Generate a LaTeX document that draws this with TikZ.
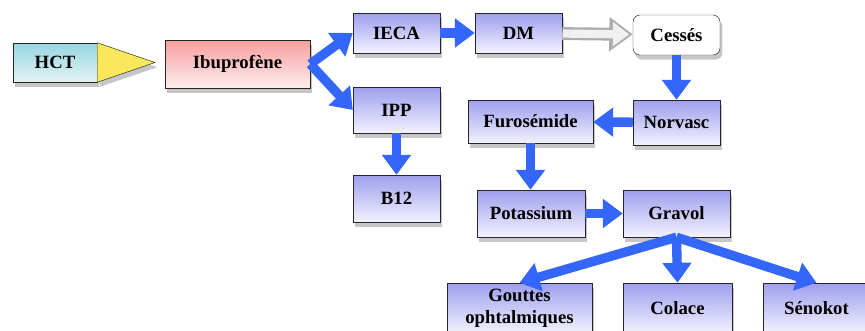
\documentclass[tikz,border=0pt]{standalone}
\usepackage{fontspec}
\setmainfont{Liberation Serif}
\usetikzlibrary{shadows, arrows.meta}
\definecolor{medtop}{RGB}{158,158,238}
\definecolor{medbottom}{RGB}{242,242,255}
\definecolor{ibutop}{RGB}{248,158,158}
\definecolor{ibubottom}{RGB}{253,238,238}
\definecolor{hcttop}{RGB}{150,214,226}
\definecolor{hctbottom}{RGB}{228,242,242}
\definecolor{hctyellow}{RGB}{250,232,92}
\definecolor{flowblue}{RGB}{52,102,250}
\tikzset{
    box shadow/.style = {drop shadow={shadow xshift=2pt, shadow yshift=-4pt, opacity=0.45}},
    drug/.style = {draw=black!85, thin, box shadow, inner sep=0pt, align=center,
                   font=\bfseries\fontsize{16}{19}\selectfont},
    med/.style = {drug, top color=medtop, bottom color=medbottom},
}
\tikzset{
    flow/.style = {draw=flowblue, line width=8pt, -{Triangle[width=24pt,length=17pt]}},
    stopped/.style = {draw=gray!65, line width=11pt, -{Triangle[width=28pt,length=20pt]}},
    stopped inner/.style = {draw=gray!12, line width=7pt, shorten <=0.5pt, shorten >=3pt,
                            -{Triangle[width=20pt,length=14pt]}},
}

\begin{document}
\begin{tikzpicture}[x=0.03cm, y=-0.03cm]
    \useasboundingbox (0,0) rectangle (865,330);

    \node[drug, top color=hcttop, bottom color=hctbottom, minimum width=2.52cm, minimum height=1.17cm] (hct) at (55,62.5) {HCT};
    \coordinate (hcttip) at (155,62.5);
    \filldraw[fill=hctyellow, draw=black!85, thin, box shadow] (hct.north east) -- (hcttip) -- (hct.south east) -- cycle;
    \node[drug, top color=ibutop, bottom color=ibubottom, minimum width=4.35cm, minimum height=1.44cm] (ibu) at (237.5,64) {Ibuprofène};

    \node[med, minimum width=2.61cm, minimum height=1.2cm] (ieca) at (396.5,33) {IECA};
    \node[med, minimum width=2.61cm, minimum height=1.2cm] (dm) at (518.5,33) {DM};
    \node[drug, fill=white, rounded corners=6pt, minimum width=2.61cm, minimum height=1.2cm] (cesses) at (676.5,35) {Cessés};
    \node[med, minimum width=2.61cm, minimum height=1.38cm] (ipp) at (396.5,110) {IPP};
    \node[med, minimum width=2.61cm, minimum height=1.41cm] (b12) at (396.5,198.5) {B12};
    \node[med, minimum width=3.75cm, minimum height=1.29cm] (furo) at (530.5,121.5) {Furosémide};
    \node[med, minimum width=2.61cm, minimum height=1.35cm] (norvasc) at (676.5,122.5) {Norvasc};
    \node[med, minimum width=3.24cm, minimum height=1.41cm] (potassium) at (531,213.5) {Potassium};
    \node[med, minimum width=3.21cm, minimum height=1.41cm] (gravol) at (676.5,213.5) {Gravol};
    \node[med, minimum width=4.35cm, minimum height=1.5cm] (gouttes) at (519.5,308) {Gouttes\\ophtalmiques};
    \node[med, minimum width=3.27cm, minimum height=1.5cm] (colace) at (677.5,308) {Colace};
    \node[med, minimum width=3.21cm, minimum height=1.5cm] (senokot) at (816.5,308) {Sénokot};

    \draw[flow] (ibu.east) -- (ieca.west);
    \draw[flow] (ibu.east) -- (ipp.west);
    \draw[flow] (ieca) -- (dm);
    \draw[stopped] (dm) -- (cesses);
    \draw[stopped inner] (dm) -- (cesses);
    \draw[flow] (cesses) -- (norvasc);
    \draw[flow] (norvasc) -- (furo);
    \draw[flow] (ipp) -- (b12);
    \draw[flow] (furo.south) -- (furo.south |- potassium.north);
    \draw[flow] (potassium) -- (gravol);
    \draw[flow] (gravol.south) -- (gouttes.north);
    \draw[flow] (gravol.south) -- (colace.north);
    \draw[flow] (gravol.south) -- (senokot.north);
\end{tikzpicture}
\end{document}
